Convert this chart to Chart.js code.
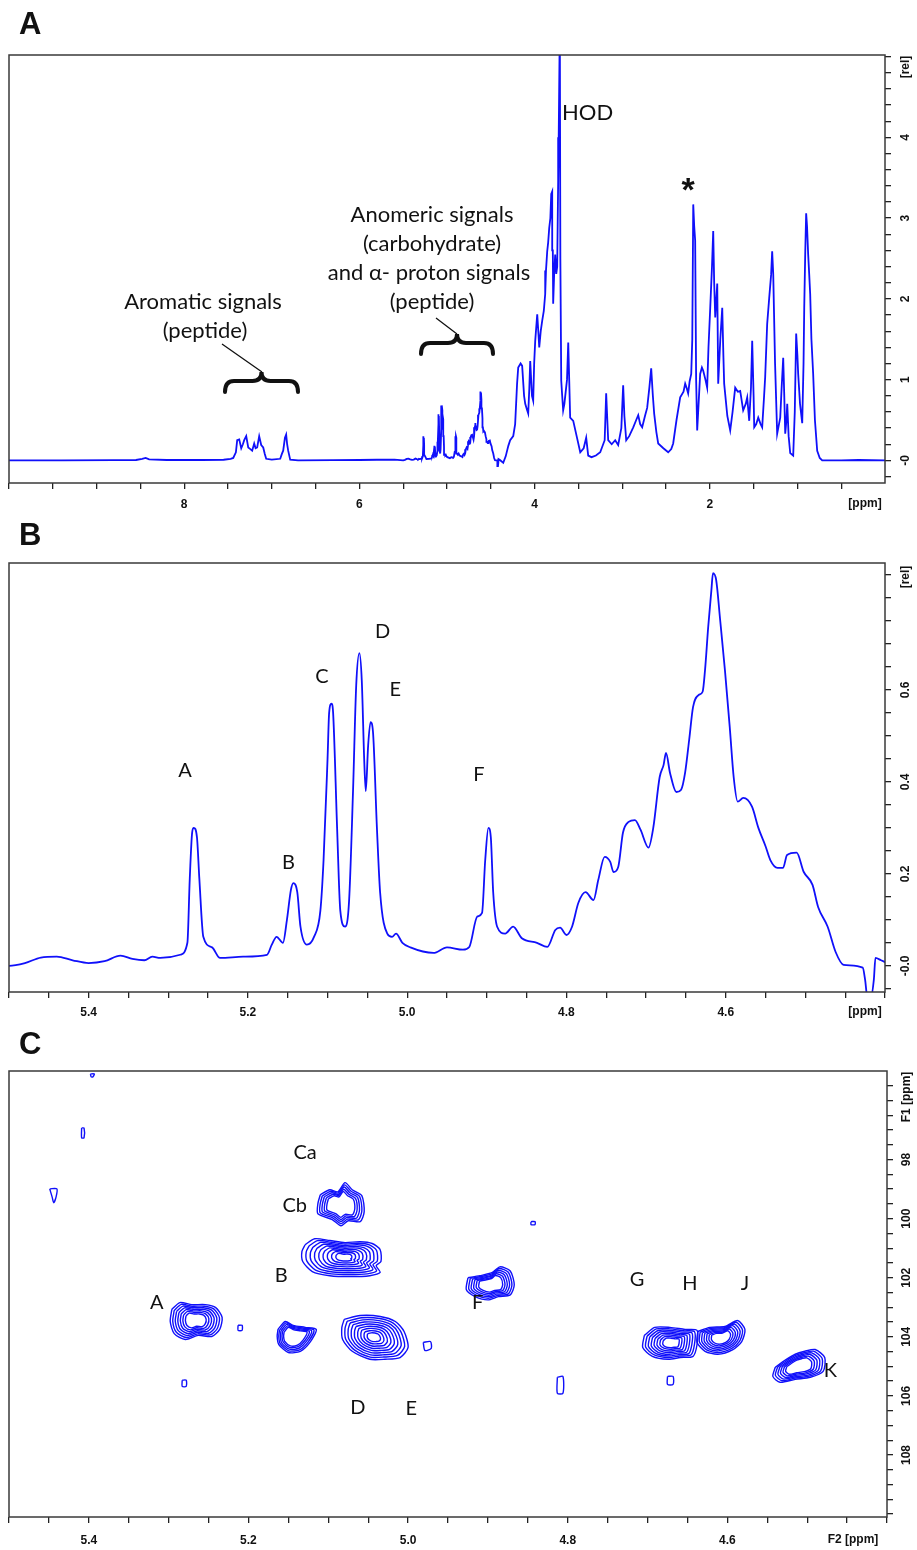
<!DOCTYPE html>
<html>
<head>
<meta charset="utf-8">
<script src="https://cdn.jsdelivr.net/npm/chart.js@4.4.0/dist/chart.umd.min.js"></script>
<style>
  html, body { margin: 0; padding: 0; background: #fff; }
  #page { position: relative; width: 917px; height: 1550px; }
  canvas { position: absolute; left: 0; }
</style>
</head>
<body>
<div id="page">
  <canvas id="specA" width="917" height="525" style="top:0"></canvas>
  <canvas id="specB" width="917" height="520" style="top:505px"></canvas>
  <canvas id="hsqc" width="917" height="525" style="top:1025px"></canvas>
</div>
<script>
// ---- 1H spectrum, [shift ppm, relative intensity] ----
const downfield = [
  [10.00, 0.000], [9.40, 0.000], [8.80, 0.003], [8.55, 0.005], [8.48, 0.020], [8.44, 0.030],
  [8.40, 0.012], [8.20, 0.005], [7.80, 0.005], [7.55, 0.008], [7.47, 0.020], [7.44, 0.030]
];
const aromatic = [
  [7.41, 0.100], [7.395, 0.250], [7.372, 0.260], [7.349, 0.150], [7.33, 0.200], [7.315, 0.250],
  [7.292, 0.300], [7.269, 0.160], [7.245, 0.140], [7.224, 0.120], [7.201, 0.210], [7.185, 0.150],
  [7.167, 0.160], [7.144, 0.300], [7.121, 0.190], [7.098, 0.160], [7.08, 0.080], [7.064, 0.020],
  [7.00, 0.010], [6.904, 0.020], [6.885, 0.080], [6.870, 0.120], [6.850, 0.280], [6.836, 0.320],
  [6.825, 0.200], [6.813, 0.120], [6.790, 0.010], [6.70, 0.000], [6.30, 0.003], [6.00, 0.005],
  [5.80, 0.008], [5.60, 0.010]
];
const anomeric = [
  [5.50, 0.000], [5.48, 0.006], [5.46, 0.018], [5.44, 0.020], [5.42, 0.012], [5.40, 0.006],
  [5.38, 0.010], [5.36, 0.022], [5.345, 0.015], [5.33, 0.012], [5.32, 0.020], [5.31, 0.017],
  [5.285, 0.024], [5.276, 0.050], [5.273, 0.190], [5.270, 0.290], [5.268, 0.300], [5.264, 0.280],
  [5.261, 0.190], [5.256, 0.063], [5.245, 0.040], [5.235, 0.017], [5.206, 0.020], [5.176, 0.024],
  [5.170, 0.046], [5.164, 0.063], [5.156, 0.050], [5.151, 0.100], [5.146, 0.165], [5.143, 0.180],
  [5.138, 0.160], [5.134, 0.085], [5.126, 0.046], [5.117, 0.063], [5.109, 0.120], [5.105, 0.230],
  [5.100, 0.450], [5.098, 0.550], [5.095, 0.570], [5.093, 0.550], [5.088, 0.300], [5.084, 0.120],
  [5.078, 0.085], [5.073, 0.140], [5.068, 0.380], [5.064, 0.610], [5.060, 0.680], [5.057, 0.620],
  [5.054, 0.450], [5.052, 0.380], [5.049, 0.480], [5.046, 0.530], [5.043, 0.510], [5.038, 0.300],
  [5.034, 0.160], [5.025, 0.070], [5.019, 0.063], [5.014, 0.070], [5.006, 0.050], [4.996, 0.040],
  [4.967, 0.028], [4.950, 0.040], [4.930, 0.035], [4.922, 0.041], [4.912, 0.107], [4.906, 0.115],
  [4.902, 0.230], [4.898, 0.300], [4.895, 0.280], [4.892, 0.160], [4.887, 0.085], [4.877, 0.070],
  [4.867, 0.085], [4.856, 0.060], [4.837, 0.050], [4.824, 0.041], [4.814, 0.078], [4.808, 0.083],
  [4.800, 0.067], [4.793, 0.085], [4.785, 0.137], [4.776, 0.160], [4.766, 0.143], [4.760, 0.187],
  [4.752, 0.237], [4.745, 0.226], [4.741, 0.204], [4.735, 0.215], [4.729, 0.290], [4.722, 0.313],
  [4.714, 0.317], [4.707, 0.296], [4.697, 0.257], [4.691, 0.300], [4.683, 0.410], [4.678, 0.437],
  [4.675, 0.463], [4.670, 0.420], [4.662, 0.378], [4.656, 0.383], [4.651, 0.420], [4.646, 0.490],
  [4.641, 0.563], [4.634, 0.589], [4.629, 0.596], [4.626, 0.643], [4.622, 0.737], [4.618, 0.817],
  [4.616, 0.854], [4.612, 0.839], [4.607, 0.752], [4.601, 0.643], [4.595, 0.520], [4.590, 0.410],
  [4.585, 0.357], [4.578, 0.365], [4.567, 0.346], [4.559, 0.300], [4.550, 0.260], [4.544, 0.230],
  [4.535, 0.213], [4.528, 0.213], [4.523, 0.241], [4.511, 0.246], [4.502, 0.204], [4.491, 0.176],
  [4.484, 0.128], [4.472, 0.085], [4.462, 0.030], [4.452, 0.002], [4.428, -0.004], [4.425, -0.030],
  [4.422, -0.070], [4.418, -0.070], [4.414, -0.030], [4.412, 0.017], [4.405, 0.012], [4.400, 0.008]
];
const aliphatic = [
  [4.358, -0.030], [4.330, 0.050], [4.300, 0.180], [4.279, 0.250], [4.244, 0.300], [4.222, 0.450],
  [4.200, 0.950], [4.187, 1.150], [4.160, 1.200], [4.142, 1.170], [4.120, 0.800], [4.107, 0.700],
  [4.085, 0.620], [4.073, 0.580], [4.060, 0.900], [4.050, 1.230], [4.030, 0.800], [4.016, 0.740],
  [4.005, 1.200], [3.993, 1.480], [3.970, 1.810], [3.955, 1.550], [3.947, 1.400], [3.930, 1.600],
  [3.913, 1.730], [3.895, 1.850], [3.879, 2.060], [3.870, 2.350], [3.856, 2.590], [3.845, 2.700],
  [3.833, 2.880], [3.820, 3.000], [3.810, 3.300], [3.799, 3.330], [3.792, 2.600], [3.788, 1.940],
  [3.777, 2.300], [3.765, 2.550], [3.753, 2.310], [3.742, 2.400], [3.731, 3.460], [3.725, 4.000],
  [3.719, 5.400], [3.712, 5.400], [3.706, 2.500], [3.696, 0.990], [3.685, 0.800], [3.674, 0.620],
  [3.660, 0.700], [3.630, 1.000], [3.616, 1.460], [3.605, 1.000], [3.594, 0.530], [3.559, 0.490],
  [3.520, 0.300], [3.479, 0.100], [3.440, 0.150], [3.411, 0.280], [3.388, 0.060], [3.350, 0.040],
  [3.300, 0.060], [3.251, 0.100], [3.200, 0.250], [3.183, 0.830], [3.170, 0.500], [3.160, 0.250],
  [3.120, 0.200], [3.080, 0.250], [3.046, 0.190], [3.010, 0.400], [2.989, 0.930], [2.975, 0.550],
  [2.954, 0.250], [2.920, 0.300], [2.874, 0.410], [2.840, 0.500], [2.817, 0.560], [2.795, 0.450],
  [2.772, 0.410], [2.740, 0.550], [2.715, 0.650], [2.690, 0.900], [2.669, 1.140], [2.650, 0.800],
  [2.635, 0.580], [2.610, 0.350], [2.589, 0.210], [2.530, 0.150], [2.475, 0.100], [2.440, 0.140],
  [2.418, 0.210], [2.380, 0.500], [2.338, 0.780], [2.300, 0.850], [2.281, 0.950], [2.265, 0.900],
  [2.247, 0.830], [2.230, 0.980], [2.212, 1.070], [2.200, 1.500], [2.189, 3.170], [2.178, 2.900],
  [2.167, 2.720], [2.156, 1.000], [2.144, 0.370], [2.128, 0.700], [2.110, 1.070], [2.090, 1.150],
  [2.075, 1.110], [2.050, 1.000], [2.030, 0.900], [2.015, 1.400], [1.995, 1.890], [1.975, 2.400],
  [1.961, 2.840], [1.950, 2.200], [1.938, 1.770], [1.925, 2.000], [1.915, 2.190], [1.904, 0.950],
  [1.880, 1.500], [1.858, 1.890], [1.845, 1.300], [1.836, 0.950], [1.800, 0.550], [1.767, 0.370],
  [1.740, 0.600], [1.710, 0.900], [1.680, 0.850], [1.653, 0.860], [1.619, 0.620], [1.590, 0.700],
  [1.573, 0.780], [1.550, 0.490], [1.530, 0.900], [1.516, 1.480], [1.500, 0.800], [1.493, 0.410],
  [1.470, 0.450], [1.447, 0.530], [1.420, 0.450], [1.402, 0.410], [1.380, 0.800], [1.368, 1.030],
  [1.345, 1.690], [1.322, 2.010], [1.300, 2.300], [1.288, 2.590], [1.276, 2.310], [1.255, 1.200],
  [1.231, 0.330], [1.210, 0.450], [1.196, 0.530], [1.180, 0.900], [1.162, 1.270], [1.150, 0.800],
  [1.139, 0.330], [1.125, 0.500], [1.116, 0.700], [1.100, 0.300], [1.082, 0.090], [1.048, 0.060],
  [1.030, 0.600], [1.014, 1.570], [1.000, 1.300], [0.991, 1.070], [0.970, 0.700], [0.945, 0.460],
  [0.930, 1.200], [0.922, 1.890], [0.910, 2.600], [0.900, 3.060], [0.890, 2.900], [0.877, 2.550],
  [0.865, 2.300], [0.854, 2.060], [0.840, 1.500], [0.820, 1.070], [0.800, 0.500], [0.774, 0.120],
  [0.745, 0.030], [0.717, 0.000], [0.500, 0.000], [0.300, 0.005], [0.000, 0.000]
];

// ---- axis tick labels ----
const xLabelsA = [2, 4, 6, 8];
const yTicksA = [0, 1, 2, 3, 4];
const yTextA = ['-0', '1', '2', '3', '4'];
const xLabelsB = [4.6, 4.8, 5.0, 5.2, 5.4];
const yTicksB = [0, 0.2, 0.4, 0.6];
const yTextB = ['-0.0', '0.2', '0.4', '0.6'];
const yTicksC = [98, 100, 102, 104, 106, 108];
const yTextC = ['98', '100', '102', '104', '106', '108'];

// ---- peak labels ----
const labelsB = [['A', 5.279, 0.424], ['B', 5.149, 0.224], ['C', 5.107, 0.628],
                 ['D', 5.031, 0.728], ['E', 5.015, 0.600], ['F', 4.910, 0.415]];
const labelsC = [['Ca', 5.129, 97.77], ['Cb', 5.142, 99.56], ['A', 5.315, 102.84], ['B', 5.159, 101.93],
                 ['D', 5.063, 106.39], ['E', 4.996, 106.42], ['F', 4.913, 102.85], ['G', 4.713, 102.06],
                 ['H', 4.647, 102.20], ['J', 4.578, 102.20], ['K', 4.471, 105.14]];

// ---- HSQC cross-peak outlines, [F2 ppm, F1 ppm] ----
const peakCa = [[5.110,99.19],[5.098,99.02],[5.088,99.09],[5.079,98.78],[5.070,99.02],[5.058,99.22],[5.055,99.76],
  [5.060,100.10],[5.075,100.07],[5.084,100.24],[5.095,100.03],[5.113,99.83],[5.113,99.49]];
const peakCb = [[5.129,100.88],[5.117,100.68],[5.098,100.74],[5.079,100.81],[5.060,100.78],[5.045,100.84],
  [5.035,101.05],[5.034,101.45],[5.040,101.59],[5.035,101.82],[5.048,101.93],[5.073,101.96],[5.098,101.93],
  [5.120,101.79],[5.132,101.45],[5.133,101.11]];
const peakA = [[5.296,103.07],[5.286,102.84],[5.271,102.91],[5.254,102.91],[5.241,103.01],[5.233,103.34],
  [5.236,103.75],[5.246,103.99],[5.263,103.95],[5.279,104.09],[5.293,103.89],[5.298,103.48]];
const peakB = [[5.163,103.75],[5.154,103.48],[5.144,103.61],[5.129,103.68],[5.115,103.75],[5.123,104.19],
  [5.135,104.49],[5.150,104.53],[5.162,104.26],[5.164,103.99]];
const peakDE = [[5.080,103.41],[5.060,103.28],[5.035,103.31],[5.016,103.48],[5.005,103.82],[5.000,104.36],
  [5.010,104.70],[5.029,104.76],[5.048,104.76],[5.070,104.49],[5.082,104.09],[5.083,103.68]];
const peakF = [[4.925,102.00],[4.910,101.93],[4.895,101.83],[4.885,101.63],[4.872,101.77],[4.867,102.24],
  [4.872,102.58],[4.887,102.64],[4.900,102.75],[4.916,102.64],[4.927,102.41]];
const peakGH = [[4.704,103.95],[4.691,103.68],[4.672,103.68],[4.653,103.75],[4.638,103.78],[4.638,104.26],
  [4.643,104.66],[4.659,104.70],[4.674,104.76],[4.694,104.66],[4.706,104.36]];
const peakJ = [[4.637,103.82],[4.622,103.68],[4.603,103.65],[4.587,103.45],[4.578,103.75],[4.582,104.16],
  [4.593,104.43],[4.612,104.59],[4.628,104.49],[4.638,104.19]];
const peakK = [[4.540,105.03],[4.528,104.80],[4.515,104.59],[4.503,104.49],[4.490,104.43],[4.478,104.70],
  [4.480,105.17],[4.496,105.37],[4.515,105.44],[4.534,105.54],[4.543,105.34]];
const weakPeaks = [
  [[5.449,98.99],[5.440,98.99],[5.441,99.26],[5.444,99.46],[5.446,99.26]],
  [[5.409,96.93],[5.406,96.93],[5.406,97.26],[5.409,97.26]],
  [[5.398,95.10],[5.393,95.10],[5.395,95.20],[5.397,95.20]],
  [[5.213,103.61],[5.208,103.61],[5.208,103.78],[5.213,103.78]],
  [[5.283,105.47],[5.278,105.47],[5.278,105.68],[5.283,105.68]],
  [[4.981,104.19],[4.972,104.16],[4.971,104.39],[4.979,104.46]],
  [[4.846,100.10],[4.841,100.10],[4.841,100.20],[4.846,100.20]],
  [[4.813,105.37],[4.806,105.34],[4.806,105.91],[4.813,105.91]],
  [[4.675,105.34],[4.668,105.34],[4.668,105.61],[4.675,105.61]]
];
// relative size of each drawn contour level
const contourLevels = [1, 0.9, 0.8, 0.7, 0.6, 0.5, 0.4, 0.3, 0.2];

const BLUE = 'rgb(16,16,250)';
const AXIS_FONT = 'bold 12px "Liberation Sans", Arial, sans-serif';
const NOTE_FAMILY = 'Lato, "Open Sans", sans-serif';

// line controller wants ascending x, so flip the downfield-first list
const spectrum = downfield.concat(aromatic, anomeric, aliphatic)
  .map(p => ({ x: p[0], y: p[1] }))
  .reverse();

function steps(from, to, step) {
  const out = [];
  for (let v = from; v <= to + 1e-9; v += step) out.push({ value: Math.round(v * 1000) / 1000 });
  return out;
}
function isLabel(list, v) {
  return list.some(l => Math.abs(l - v) < 1e-6);
}

// axis setup shared by the three panels
function xAxis(min, max, tickList, labels, fmt, height, pad) {
  return {
    type: 'linear', reverse: true, min: min, max: max,
    afterBuildTicks: s => { s.ticks = tickList; },
    afterFit: s => { s.height = height; },
    border: { display: false },
    grid: { drawOnChartArea: false, drawTicks: true, tickLength: 6, color: '#222', lineWidth: 1.3 },
    ticks: {
      autoSkip: false, maxRotation: 0, padding: pad, color: '#111',
      font: { family: '"Liberation Sans", Arial, sans-serif', size: 12, weight: 'bold' },
      callback: v => isLabel(labels, v) ? fmt(v) : ''
    }
  };
}
function yAxis(min, max, tickList, width, rev) {
  return {
    type: 'linear', position: 'right', reverse: !!rev, min: min, max: max,
    afterBuildTicks: s => { s.ticks = tickList; },
    afterFit: s => { s.width = width; },
    border: { display: false },
    grid: { drawOnChartArea: false, drawTicks: true, tickLength: 6, color: '#222', lineWidth: 1.3 },
    ticks: { display: false }
  };
}

// box, rotated y labels, units, panel letter and notes
function frame(o) {
  return {
    id: 'frame',
    afterDraw(chart) {
      const ctx = chart.ctx, a = chart.chartArea;
      const sx = chart.scales.x, sy = chart.scales.y;
      ctx.save();
      ctx.strokeStyle = '#3a3a3a';
      ctx.lineWidth = 1.5;
      ctx.strokeRect(a.left, a.top, a.right - a.left, a.bottom - a.top);
      ctx.fillStyle = '#111';
      ctx.font = AXIS_FONT;
      ctx.textAlign = 'center';
      ctx.textBaseline = 'middle';
      const rot = (txt, x, y) => {
        ctx.save(); ctx.translate(x, y); ctx.rotate(-Math.PI / 2); ctx.fillText(txt, 0, 0); ctx.restore();
      };
      o.yTicks.forEach((v, i) => rot(o.yText[i], a.right + o.yOff, sy.getPixelForValue(v)));
      rot(o.yTitle, a.right + o.yOff, o.yTitleY);
      ctx.fillText(o.xUnit, o.xUnitX, a.bottom + o.xUnitDy);
      ctx.font = 'bold 31px "Liberation Sans", Arial, sans-serif';
      ctx.textAlign = 'left';
      ctx.textBaseline = 'alphabetic';
      ctx.fillText(o.letter, o.letterX, o.letterY);
      if (o.notes) o.notes(ctx, sx, sy);
      ctx.restore();
    }
  };
}

function peakLetters(list, size) {
  return (ctx, sx, sy) => {
    ctx.font = size + 'px ' + NOTE_FAMILY;
    ctx.fillStyle = '#111';
    ctx.textAlign = 'center';
    ctx.textBaseline = 'middle';
    list.forEach(l => ctx.fillText(l[0], sx.getPixelForValue(l[1]), sy.getPixelForValue(l[2])));
  };
}

// horizontal curly brace, tip pointing up
function brace(ctx, x1, x2, yTip, h) {
  const xm = (x1 + x2) / 2, ym = yTip + h * 0.45, r = 9;
  ctx.beginPath();
  ctx.moveTo(x1, yTip + h);
  ctx.quadraticCurveTo(x1, ym, x1 + r, ym);
  ctx.lineTo(xm - r, ym);
  ctx.quadraticCurveTo(xm, ym, xm, yTip);
  ctx.quadraticCurveTo(xm, ym, xm + r, ym);
  ctx.lineTo(x2 - r, ym);
  ctx.quadraticCurveTo(x2, ym, x2, yTip + h);
  ctx.stroke();
}

function notesA(ctx, sx, sy) {
  ctx.fillStyle = '#111';
  ctx.strokeStyle = '#111';
  ctx.font = '22px ' + NOTE_FAMILY;
  ctx.textAlign = 'center';
  ctx.textBaseline = 'middle';
  ctx.fillText('Aromatic signals', 203, 302);
  ctx.fillText('(peptide)', 205, 331);
  ctx.fillText('Anomeric signals', 432, 215);
  ctx.fillText('(carbohydrate)', 432, 244);
  ctx.fillText('and \u03b1- proton signals', 429, 273);
  ctx.fillText('(peptide)', 432, 302);
  ctx.textAlign = 'left';
  ctx.fillText('HOD', 562, 113);
  ctx.textAlign = 'center';
  ctx.font = 'bold 34px "Liberation Sans", Arial, sans-serif';
  ctx.fillText('*', 688, 192);
  ctx.lineWidth = 1.3;
  ctx.beginPath();
  ctx.moveTo(222, 344); ctx.lineTo(262, 372);
  ctx.moveTo(436, 318); ctx.lineTo(457, 334);
  ctx.stroke();
  ctx.lineWidth = 4;
  ctx.lineCap = 'round';
  brace(ctx, 225, 298, 372, 20);
  brace(ctx, 421, 493, 334, 20);
}

function spectrumDataset(width, mode) {
  return {
    data: spectrum, borderColor: BLUE, borderWidth: width, pointRadius: 0,
    tension: 0, cubicInterpolationMode: mode, fill: false
  };
}

const common = {
  responsive: false, animation: false, events: [],
  plugins: { legend: { display: false }, tooltip: { enabled: false } }
};

new Chart(document.getElementById('specA'), {
  type: 'line',
  data: { datasets: [spectrumDataset(1.8, 'default')] },
  options: Object.assign({}, common, {
    parsing: false,
    layout: { padding: { left: 9, top: 55, right: 0, bottom: 0 } },
    scales: {
      x: xAxis(0, 10, steps(0.5, 10, 0.5), xLabelsA, v => String(v), 42, 8),
      y: yAxis(-0.28, 5.02, steps(-0.2, 5.0, 0.2), 32)
    }
  }),
  plugins: [frame({
    yTicks: yTicksA, yText: yTextA, yOff: 21, yTitle: '[rel]', yTitleY: 67,
    xUnit: '[ppm]', xUnitX: 865, xUnitDy: 21, letter: 'A', letterX: 19, letterY: 34,
    notes: notesA
  })]
});

new Chart(document.getElementById('specB'), {
  type: 'line',
  data: { datasets: [spectrumDataset(1.8, 'monotone')] },
  options: Object.assign({}, common, {
    parsing: false,
    layout: { padding: { left: 9, top: 58, right: 0, bottom: 0 } },
    scales: {
      x: xAxis(4.40, 5.50, steps(4.40, 5.50, 0.05), xLabelsB, v => v.toFixed(1), 33, 7),
      y: yAxis(-0.057, 0.876, steps(-0.05, 0.85, 0.05), 32)
    }
  }),
  plugins: [frame({
    yTicks: yTicksB, yText: yTextB, yOff: 21, yTitle: '[rel]', yTitleY: 72,
    xUnit: '[ppm]', xUnitX: 865, xUnitDy: 20, letter: 'B', letterX: 19, letterY: 40,
    notes: peakLetters(labelsB, 20)
  })]
});

// contour rings: each outline is repeated at the levels, shrunk toward its centre
const crossPeaks = [
  [peakCa, 5], [peakCb, 9], [peakA, 7], [peakB, 5], [peakDE, 9],
  [peakF, 6], [peakGH, 8], [peakJ, 7], [peakK, 6]
].concat(weakPeaks.map(p => [p, 1]));

const contourSets = [];
crossPeaks.forEach(([pts, n]) => {
  const cx = pts.reduce((s, p) => s + p[0], 0) / pts.length;
  const cy = pts.reduce((s, p) => s + p[1], 0) / pts.length;
  contourLevels.slice(0, n).forEach(f => {
    const ring = pts.map(p => ({ x: cx + (p[0] - cx) * f, y: cy + (p[1] - cy) * f }));
    ring.push(ring[0]);
    contourSets.push({
      data: ring, showLine: true, borderColor: BLUE, borderWidth: 1.4,
      pointRadius: 0, tension: 0.25, fill: false
    });
  });
});

new Chart(document.getElementById('hsqc'), {
  type: 'scatter',
  data: { datasets: contourSets },
  options: Object.assign({}, common, {
    parsing: false,
    layout: { padding: { left: 9, top: 46, right: 0, bottom: 0 } },
    scales: {
      x: xAxis(4.40, 5.50, steps(4.40, 5.50, 0.05), xLabelsB, v => v.toFixed(1), 33, 10),
      y: yAxis(95.0, 110.1, steps(95.5, 110, 0.5), 30, true)
    }
  }),
  plugins: [frame({
    yTicks: yTicksC, yText: yTextC, yOff: 20, yTitle: 'F1 [ppm]', yTitleY: 72,
    xUnit: 'F2 [ppm]', xUnitX: 853, xUnitDy: 23, letter: 'C', letterX: 19, letterY: 29,
    notes: peakLetters(labelsC, 20)
  })]
});
</script>
</body>
</html>
